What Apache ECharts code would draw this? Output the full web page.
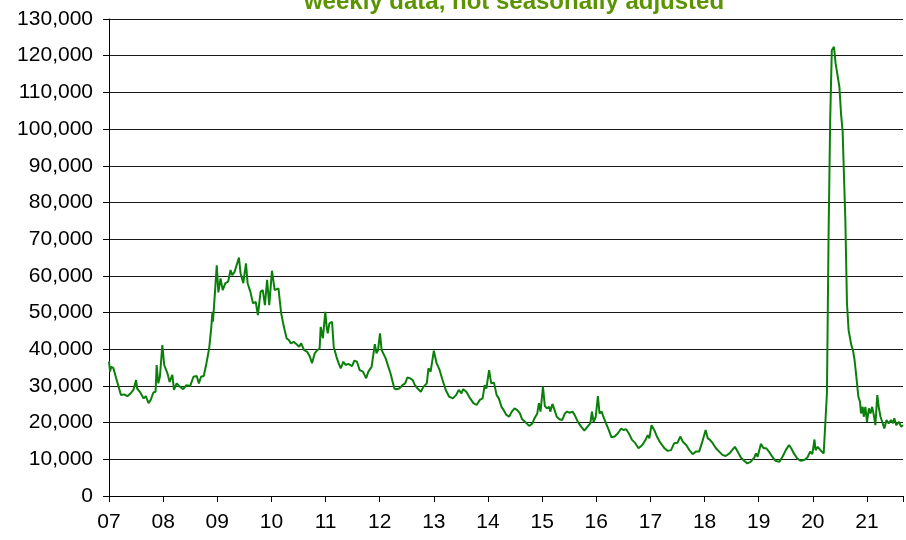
<!DOCTYPE html>
<html>
<head>
<meta charset="utf-8">
<script src="https://cdn.jsdelivr.net/npm/echarts@6/dist/echarts.min.js"></script>
<style>html,body{margin:0;padding:0;background:#fff}#c{width:906px;height:540px}</style>
</head>
<body>
<div id="c"></div>
<script>
const titleText = 'weekly data, not seasonally adjusted';
const yearTicks = ['07','08','09','10','11','12','13','14','15','16','17','18','19','20','21'];
const years = [
2007.00,2007.02,2007.04,2007.08,2007.13,2007.17,2007.22,2007.28,2007.34,2007.40,2007.45,2007.50,2007.52,2007.57,2007.64,2007.68,2007.73,2007.77,2007.82,2007.86,2007.88,2007.91,2007.94,2007.985,
2008.02,2008.05,2008.08,2008.12,2008.17,2008.20,2008.25,2008.31,2008.37,2008.43,2008.50,2008.56,2008.62,2008.66,2008.70,2008.75,2008.80,2008.85,2008.89,2008.91,2008.92,2008.96,2008.99,
2009.02,2009.06,2009.10,2009.15,2009.20,2009.245,2009.275,2009.32,2009.355,2009.40,2009.43,2009.48,2009.53,2009.56,2009.61,2009.66,2009.71,2009.75,2009.80,2009.84,2009.88,2009.92,2009.96,
2010.01,2010.06,2010.09,2010.13,2010.18,2010.23,2010.28,2010.32,2010.36,2010.41,2010.46,2010.51,2010.55,2010.60,2010.66,2010.71,2010.75,2010.80,2010.85,2010.89,2010.91,2010.95,2010.995,
2011.02,2011.04,2011.07,2011.12,2011.15,2011.20,2011.24,2011.28,2011.33,2011.37,2011.42,2011.49,2011.53,2011.58,2011.63,2011.69,2011.75,2011.79,2011.85,2011.88,2011.91,2011.94,2011.97,
2012.005,2012.035,2012.07,2012.11,2012.16,2012.20,2012.24,2012.27,2012.31,2012.36,2012.42,2012.47,2012.51,2012.56,2012.61,2012.65,2012.70,2012.76,2012.81,2012.87,2012.90,2012.94,
2013.00,2013.05,2013.10,2013.16,2013.22,2013.28,2013.35,2013.41,2013.46,2013.51,2013.54,2013.60,2013.67,2013.73,2013.79,2013.85,2013.90,2013.94,2013.97,
2014.02,2014.06,2014.11,2014.16,2014.20,2014.25,2014.29,2014.34,2014.39,2014.44,2014.49,2014.54,2014.59,2014.63,2014.70,2014.76,2014.82,2014.86,2014.91,2014.94,2014.97,
2015.015,2015.05,2015.09,2015.13,2015.15,2015.19,2015.23,2015.27,2015.32,2015.37,2015.42,2015.46,2015.51,2015.56,2015.60,2015.66,2015.72,2015.78,2015.85,2015.89,2015.92,2015.95,2015.99,
2016.03,2016.06,2016.10,2016.13,2016.18,2016.23,2016.28,2016.34,2016.40,2016.46,2016.50,2016.55,2016.60,2016.66,2016.72,2016.78,2016.85,2016.91,2016.95,2016.98,
2017.02,2017.07,2017.12,2017.18,2017.26,2017.32,2017.38,2017.44,2017.50,2017.55,2017.60,2017.66,2017.72,2017.78,2017.84,2017.90,2017.95,2017.98,
2018.02,2018.06,2018.10,2018.15,2018.21,2018.27,2018.33,2018.39,2018.46,2018.52,2018.56,2018.61,2018.67,2018.73,2018.79,2018.85,2018.92,2018.95,2018.98,
2019.04,2019.09,2019.14,2019.19,2019.25,2019.31,2019.38,2019.44,2019.50,2019.56,2019.60,2019.65,2019.71,2019.77,2019.84,2019.90,2019.95,2019.99,
2020.03,2020.05,2020.09,2020.14,2020.20,2020.23,2020.26,2020.29,2020.32,2020.35,2020.39,2020.42,2020.45,2020.49,2020.52,2020.55,2020.57,2020.60,2020.63,2020.66,2020.71,2020.74,2020.77,2020.81,2020.84,2020.87,2020.89,2020.92,2020.94,2020.97,
2021.00,2021.035,2021.065,2021.095,2021.125,2021.155,2021.19,2021.22,2021.25,2021.28,2021.32,2021.36,2021.40,2021.445,2021.48,2021.505,2021.54,2021.59,2021.63,2021.665
];
const claims = [
36600,33900,35200,34900,32200,30200,27500,27700,27200,28000,28900,31600,29300,28400,26600,27200,25300,26200,28200,28400,35700,30700,32500,41100,
35700,35200,33400,31100,33000,28900,30700,29800,29100,30200,30000,32500,32700,30700,32500,32700,36200,40200,46100,50200,47500,56100,62900,
55500,59300,56100,58000,58400,61600,60200,61100,60700,65000,60700,58000,63400,58000,55700,52500,52900,49300,55700,56100,52000,58900,52000,
61400,56100,55700,56600,49800,46100,43000,42500,41600,42000,41400,40700,41600,39800,39300,38000,36200,38900,39800,40200,46100,43000,50200,
46100,44300,47000,47500,40700,38000,36200,34800,36600,35700,36000,35400,36900,36600,34300,33900,32100,33900,35200,35700,41400,38900,39800,
44300,39800,40000,37500,35200,33400,31100,29300,29100,29300,30200,30700,32300,32100,31600,30200,29300,28400,29800,30700,34800,33900,
39600,36200,34600,31600,28900,27100,26600,27500,28900,28000,29100,28400,26600,25300,24800,26200,26600,30200,29300,
34300,30700,30900,27500,26600,24300,23400,22100,21600,23000,23900,23400,22500,20900,20000,19100,19800,21200,22500,25300,23000,
29800,24500,23900,24300,23000,25100,23400,21600,20900,20700,22500,23000,22700,23000,22100,20200,18900,17800,19100,19800,23000,20200,21600,
27200,22500,23000,21600,19800,18000,16000,16200,17100,18400,18000,18200,17100,15300,14400,13000,13900,15300,16600,15700,
19300,18000,16200,14600,13000,12300,12500,14400,14500,16200,14800,13900,12500,11400,12100,12100,14400,13900,
18000,15700,15300,14400,13000,12100,11200,10900,11600,12700,13400,12100,10500,9600,8900,9300,10500,11600,10700,
14200,13000,13000,12100,10700,9600,9300,10700,12500,13900,13000,11600,10300,9600,9800,10500,12100,11400,
15400,12500,13400,12500,11600,11200,28000,70700,102500,121500,122400,117900,115200,111500,104300,99300,99700,75200,52500,45200,41100,39800,37100,31600,27100,25700,22500,24300,21600,24300,
20200,23900,22500,24300,22100,19300,27500,23900,21600,21200,18400,20700,19800,20700,19800,21200,19300,20200,18900,19300
];

const data = years.map((y, i) => [y, claims[i]]);
const chart = echarts.init(document.getElementById('c'));
const fontFamily = '"Liberation Sans", Arial, sans-serif';
chart.setOption({
  animation: false,
  title: {
    text: titleText,
    left: 509, top: -15,
    textAlign: 'center',
    textStyle: { color: '#5b9400', fontSize: 24, fontWeight: 'bold', fontFamily }
  },
  grid: { left: 109, right: 0, top: 19, bottom: 44, containLabel: false },
  xAxis: {
    type: 'value',
    min: 2007, max: 2021.665, interval: 1,
    axisLine: { show: true, lineStyle: { color: '#000', width: 1 } },
    axisTick: { show: true, length: 6, lineStyle: { color: '#000' } },
    axisLabel: {
      margin: 16, color: '#000', fontSize: 21, fontFamily,
      formatter: v => {
        const k = Math.round(v - 2007);
        return Math.abs(v - Math.round(v)) < 1e-6 && yearTicks[k] ? yearTicks[k] : '';
      }
    },
    splitLine: { show: false }
  },
  yAxis: {
    type: 'value',
    min: 0, max: 130000, interval: 10000,
    axisLine: { show: true, lineStyle: { color: '#000', width: 1 } },
    axisTick: { show: true, length: 6, lineStyle: { color: '#000' } },
    axisLabel: {
      margin: 16, color: '#000', fontSize: 21, fontFamily,
      formatter: v => v.toLocaleString('en-US')
    },
    splitLine: { show: true, lineStyle: { color: '#1a1a1a', width: 1 } }
  },
  series: [{
    type: 'line',
    data: data,
    showSymbol: false,
    symbol: 'none',
    lineStyle: { color: '#0a800a', width: 2 },
    itemStyle: { color: '#0a800a' }
  }]
});
</script>
</body>
</html>
